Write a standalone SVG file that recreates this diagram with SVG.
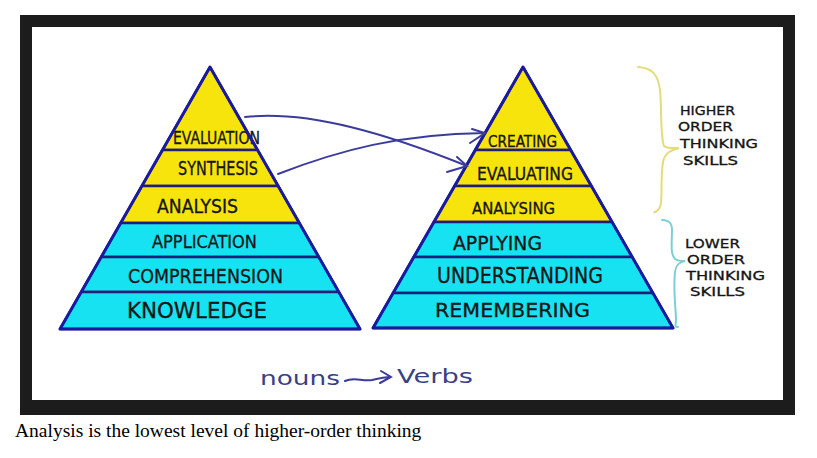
<svg xmlns="http://www.w3.org/2000/svg" width="817" height="458" viewBox="0 0 817 458">
<defs>
<style>
.y{fill:#f7e40c;stroke:#1f1f78;stroke-width:2.5;stroke-linejoin:round}
.c{fill:#16e2f2;stroke:#1f1f78;stroke-width:2.5;stroke-linejoin:round}
.tri{fill:none;stroke:#1a1aa0;stroke-width:3;stroke-linejoin:round}
.lb{font-family:"DejaVu Sans Condensed","DejaVu Sans",sans-serif;fill:#151515;stroke:#151515;stroke-width:0.3}
.br{font-family:"DejaVu Sans Condensed","DejaVu Sans",sans-serif;font-size:13px;fill:#151515;stroke:#151515;stroke-width:0.3}
.hw{font-family:"DejaVu Sans","Liberation Sans",sans-serif;font-size:20px;fill:#3a3f88}
.arr{fill:none;stroke:#3b3b9c;stroke-width:2;stroke-linecap:round}
.cap{font-family:"Liberation Serif","Times New Roman",serif;font-size:19.5px;fill:#000}
</style>
</defs>
<rect x="0" y="0" width="817" height="458" fill="#ffffff"/>
<rect x="20" y="15" width="775" height="400" fill="#1c1c1c"/>
<rect x="32" y="27" width="751" height="373" fill="#ffffff"/>

<g id="left-pyramid">
<g id="evaluation"><polygon class="y" points="210,67 257.5,150 162.5,150"/><text class="lb" font-size="18" x="173" y="144" textLength="87" lengthAdjust="spacingAndGlyphs">EVALUATION</text></g>
<g id="synthesis"><polygon class="y" points="162.5,150 257.5,150 278.1,186 141.9,186"/><text class="lb" font-size="19" x="178" y="175" textLength="80" lengthAdjust="spacingAndGlyphs">SYNTHESIS</text></g>
<g id="analysis"><polygon class="y" points="141.9,186 278.1,186 299.3,223 120.7,223"/><text class="lb" font-size="19" x="157" y="213" textLength="81" lengthAdjust="spacingAndGlyphs">ANALYSIS</text></g>
<g id="application"><polygon class="c" points="120.7,223 299.3,223 318.8,257 101.2,257"/><text class="lb" font-size="18" x="152" y="248" textLength="105" lengthAdjust="spacingAndGlyphs">APPLICATION</text></g>
<g id="comprehension"><polygon class="c" points="101.2,257 318.8,257 338.8,292 81.2,292"/><text class="lb" font-size="20" x="128" y="283" textLength="155" lengthAdjust="spacingAndGlyphs">COMPREHENSION</text></g>
<g id="knowledge"><polygon class="c" points="81.2,292 338.8,292 360,329 60,329"/><text class="lb" font-size="21" x="127" y="318" textLength="140" lengthAdjust="spacingAndGlyphs">KNOWLEDGE</text></g>
<polygon class="tri" points="210,67 360,329 60,329"/>
</g>

<g id="right-pyramid">
<g id="creating"><polygon class="y" points="523,67 570.7,150 475.3,150"/><text class="lb" font-size="15" x="488" y="147" textLength="69" lengthAdjust="spacingAndGlyphs">CREATING</text></g>
<g id="evaluating"><polygon class="y" points="475.3,150 570.7,150 591.4,186 454.6,186"/><text class="lb" font-size="17" x="477" y="180" textLength="96" lengthAdjust="spacingAndGlyphs">EVALUATING</text></g>
<g id="analysing"><polygon class="y" points="454.6,186 591.4,186 612.1,222 433.9,222"/><text class="lb" font-size="16" x="472" y="214" textLength="83" lengthAdjust="spacingAndGlyphs">ANALYSING</text></g>
<g id="applying"><polygon class="c" points="433.9,222 612.1,222 632.2,257 413.8,257"/><text class="lb" font-size="19" x="453" y="250" textLength="89" lengthAdjust="spacingAndGlyphs">APPLYING</text></g>
<g id="understanding"><polygon class="c" points="413.8,257 632.2,257 652.9,293 393.1,293"/><text class="lb" font-size="21" x="437" y="283" textLength="166" lengthAdjust="spacingAndGlyphs">UNDERSTANDING</text></g>
<g id="remembering"><polygon class="c" points="393.1,293 652.9,293 673,328 373,328"/><text class="lb" font-size="20" x="435" y="317" textLength="155" lengthAdjust="spacingAndGlyphs">REMEMBERING</text></g>
<polygon class="tri" points="523,67 673,328 373,328"/>
</g>

<g id="connectors">
<path class="arr" d="M245,117 C310,110 390,135 467,166"/>
<path class="arr" d="M457,157 L467,166 L447,172"/>
<path class="arr" d="M278,174 C340,150 400,134 485,133"/>
<path class="arr" d="M472,129 L485,133 L470,143"/>
</g>

<g id="higher-order">
<path d="M638,67 C652,68 658,74 660,90 C662,110 660,135 664,146 C667,149 674,148 679,148 C672,150 665,152 663,162 C660,180 663,200 660,207 C658,212 652,213 655,212" fill="none" stroke="#e2dc7a" stroke-width="2" stroke-linecap="round"/>
<text class="br" x="680" y="115" textLength="55" lengthAdjust="spacingAndGlyphs">HIGHER</text>
<text class="br" x="678" y="131" textLength="55" lengthAdjust="spacingAndGlyphs">ORDER</text>
<text class="br" x="680" y="148" textLength="78" lengthAdjust="spacingAndGlyphs">THINKING</text>
<text class="br" x="683" y="165" textLength="55" lengthAdjust="spacingAndGlyphs">SKILLS</text>
</g>

<g id="lower-order">
<path d="M662,220 C668,220 672,222 672,230 C672,242 670,254 675,259 C678,261 682,261 685,261 C680,262 676,264 675,272 C673,290 676,310 676,320 C676,325 674,327 678,327" fill="none" stroke="#7ccfd2" stroke-width="2" stroke-linecap="round"/>
<text class="br" x="685" y="248" textLength="55" lengthAdjust="spacingAndGlyphs">LOWER</text>
<text class="br" x="687" y="264" textLength="58" lengthAdjust="spacingAndGlyphs">ORDER</text>
<text class="br" x="686" y="280" textLength="79" lengthAdjust="spacingAndGlyphs">THINKING</text>
<text class="br" x="690" y="296" textLength="55" lengthAdjust="spacingAndGlyphs">SKILLS</text>
</g>

<g id="nouns-verbs">
<text class="hw" x="260" y="385" textLength="80" lengthAdjust="spacingAndGlyphs">nouns</text>
<path class="arr" d="M345,381 C355,376 362,382 372,380 C380,378 386,377 391,377 M381,371 L391,377 L380,383" stroke="#3a3f88"/>
<text class="hw" x="397" y="383" textLength="76" lengthAdjust="spacingAndGlyphs">Verbs</text>
</g>

<text class="cap" x="15" y="437">Analysis is the lowest level of higher-order thinking</text>
</svg>
